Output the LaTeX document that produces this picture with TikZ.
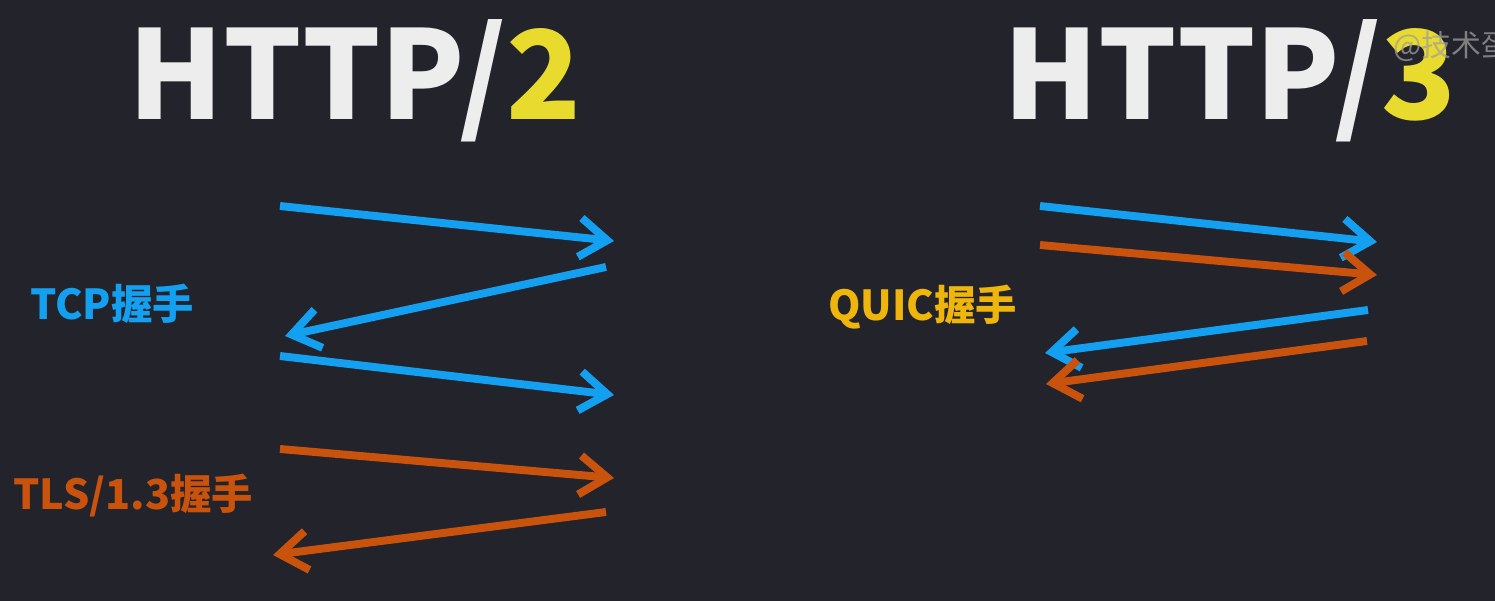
\documentclass[tikz,border=0pt]{standalone}
\usepackage{fontspec}
\newfontfamily\cjk{Noto Sans CJK SC}
\usetikzlibrary{arrows.meta}
\definecolor{bg}{HTML}{22232B}
\definecolor{tcpblue}{HTML}{14A0F0}
\definecolor{tlsorange}{HTML}{C9530C}
\definecolor{quicgold}{HTML}{EEB50C}
\definecolor{numyellow}{HTML}{E8DB2E}
\definecolor{titlewhite}{HTML}{EDEDED}
\tikzset{
  title/.style={inner sep=0pt, anchor=base west, text=titlewhite, font=\cjk\bfseries\fontsize{70}{76}\selectfont},
  hand/.style={inner sep=0pt, anchor=base west, font=\cjk\bfseries\fontsize{23.5}{26}\selectfont},
  msg/.style={line width=4.5pt, -{Straight Barb[length=0.55cm,width=0.78cm]}}
}
\begin{document}
\begin{tikzpicture}[x=0.02cm,y=-0.02cm]
\fill[bg] (0,0) rectangle (1495,601);
\useasboundingbox (0,0) rectangle (1495,601);
% titles
\node[title] (h2) at (128,120) {HTTP/\textcolor{numyellow}{2}};
\node[title] (h3) at (1003,120) {HTTP/\textcolor{numyellow}{3}};
\node[inner sep=0pt, anchor=base west, text=gray!75, opacity=0.75, font=\cjk\fontsize{17}{20}\selectfont] (wm) at (1393,57) {@技术蛋};
% labels
\node[hand, text=tcpblue] (tcp) at (30,319) {TCP握手};
\node[hand, text=tlsorange] (tls) at (13,509) {TLS/1.3握手};
\node[hand, text=quicgold] (quic) at (828,320) {QUIC握手};
% HTTP/2 handshakes
\coordinate (t1s) at (280,206); \coordinate (t1e) at (614,241);
\coordinate (t2s) at (606,267); \coordinate (t2e) at (285,336);
\coordinate (t3s) at (280,356); \coordinate (t3e) at (614,395);
\coordinate (s1s) at (280,449); \coordinate (s1e) at (614,478);
\coordinate (s2s) at (606,512); \coordinate (s2e) at (273,555);
\draw[msg, tcpblue] (t1s) -- (t1e);
\draw[msg, tcpblue] (t2s) -- (t2e);
\draw[msg, tcpblue] (t3s) -- (t3e);
\draw[msg, tlsorange] (s1s) -- (s1e);
\draw[msg, tlsorange] (s2s) -- (s2e);
% HTTP/3 handshake
\coordinate (q1s) at (1040,206); \coordinate (q1e) at (1377,242);
\coordinate (q2s) at (1040,245); \coordinate (q2e) at (1377,275);
\coordinate (q3s) at (1368,310); \coordinate (q3e) at (1045,353);
\coordinate (q4s) at (1367,341); \coordinate (q4e) at (1046,384);
\draw[msg, tcpblue] (q1s) -- (q1e);
\draw[msg, tlsorange] (q2s) -- (q2e);
\draw[msg, tcpblue] (q3s) -- (q3e);
\draw[msg, tlsorange] (q4s) -- (q4e);
\end{tikzpicture}
\end{document}
